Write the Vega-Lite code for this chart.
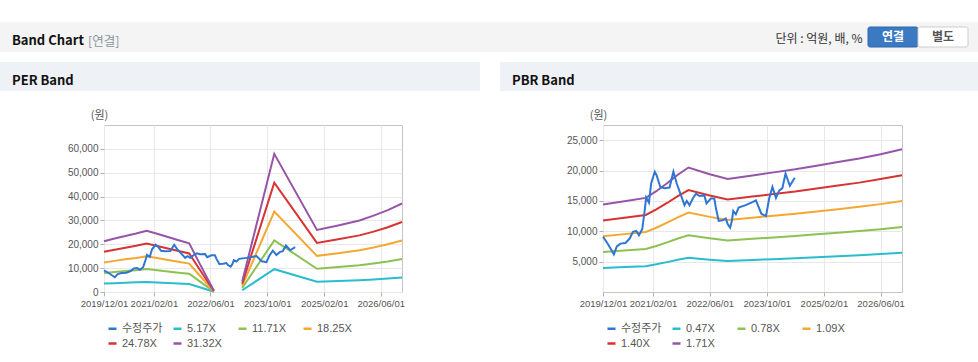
{
 "$schema": "https://vega.github.io/schema/vega-lite/v6.json",
 "padding": {"top": 22, "left": 0, "right": 0, "bottom": 0},
 "background": "white",
 "config": {
  "font": "Noto Sans CJK KR",
  "view": {"stroke": "#c4c4c4"},
  "axis": {"labelFont": "Liberation Sans", "labelFontSize": 10, "labelColor": "#555555", "tickColor": "#b0b0b0", "tickSize": 4, "domain": false, "gridColor": "#e8e8e8", "labelPadding": 2, "titleFont": "Noto Sans CJK KR"},
  "legend": {"labelFont": "Liberation Sans, Noto Sans CJK KR", "labelFontSize": 11, "labelColor": "#555555", "padding": 0},
  "title": {"font": "Noto Sans CJK KR"}
 },
 "datasets": {
  "btn": [{"b": "연결", "on": 1}, {"b": "별도", "on": 0}],
  "price": [
   {"d": "2019-12-01", "s": "수정주가", "v": 9100},
   {"d": "2020-01-13", "s": "수정주가", "v": 7860},
   {"d": "2020-03-03", "s": "수정주가", "v": 6200},
   {"d": "2020-03-28", "s": "수정주가", "v": 7500},
   {"d": "2020-04-28", "s": "수정주가", "v": 7970},
   {"d": "2020-06-10", "s": "수정주가", "v": 8080},
   {"d": "2020-07-16", "s": "수정주가", "v": 8800},
   {"d": "2020-08-13", "s": "수정주가", "v": 9900},
   {"d": "2020-09-10", "s": "수정주가", "v": 10060},
   {"d": "2020-10-04", "s": "수정주가", "v": 9340},
   {"d": "2020-11-01", "s": "수정주가", "v": 10400},
   {"d": "2020-11-22", "s": "수정주가", "v": 13500},
   {"d": "2020-12-04", "s": "수정주가", "v": 15550},
   {"d": "2020-12-28", "s": "수정주가", "v": 14700},
   {"d": "2021-01-16", "s": "수정주가", "v": 17900},
   {"d": "2021-02-16", "s": "수정주가", "v": 19800},
   {"d": "2021-03-04", "s": "수정주가", "v": 19200},
   {"d": "2021-04-04", "s": "수정주가", "v": 17300},
   {"d": "2021-05-10", "s": "수정주가", "v": 17100},
   {"d": "2021-06-22", "s": "수정주가", "v": 17200},
   {"d": "2021-07-25", "s": "수정주가", "v": 19800},
   {"d": "2021-08-22", "s": "수정주가", "v": 17900},
   {"d": "2021-09-28", "s": "수정주가", "v": 15900},
   {"d": "2021-10-28", "s": "수정주가", "v": 14300},
   {"d": "2021-11-16", "s": "수정주가", "v": 15000},
   {"d": "2021-12-10", "s": "수정주가", "v": 14300},
   {"d": "2022-01-07", "s": "수정주가", "v": 15400},
   {"d": "2022-02-04", "s": "수정주가", "v": 16200},
   {"d": "2022-03-04", "s": "수정주가", "v": 15800},
   {"d": "2022-04-16", "s": "수정주가", "v": 15900},
   {"d": "2022-05-04", "s": "수정주가", "v": 14600},
   {"d": "2022-06-10", "s": "수정주가", "v": 15400},
   {"d": "2022-07-10", "s": "수정주가", "v": 15400},
   {"d": "2022-07-22", "s": "수정주가", "v": 14000},
   {"d": "2022-08-16", "s": "수정주가", "v": 11700},
   {"d": "2022-09-19", "s": "수정주가", "v": 11800},
   {"d": "2022-10-16", "s": "수정주가", "v": 12100},
   {"d": "2022-11-01", "s": "수정주가", "v": 11200},
   {"d": "2022-11-22", "s": "수정주가", "v": 10600},
   {"d": "2022-12-07", "s": "수정주가", "v": 11700},
   {"d": "2022-12-19", "s": "수정주가", "v": 13350},
   {"d": "2023-01-10", "s": "수정주가", "v": 12800},
   {"d": "2023-02-03", "s": "수정주가", "v": 13900},
   {"d": "2023-04-04", "s": "수정주가", "v": 14300},
   {"d": "2023-06-01", "s": "수정주가", "v": 14800},
   {"d": "2023-07-01", "s": "수정주가", "v": 15100},
   {"d": "2023-08-16", "s": "수정주가", "v": 12900},
   {"d": "2023-09-25", "s": "수정주가", "v": 12500},
   {"d": "2023-10-22", "s": "수정주가", "v": 15400},
   {"d": "2023-11-19", "s": "수정주가", "v": 17300},
   {"d": "2023-12-19", "s": "수정주가", "v": 15500},
   {"d": "2024-01-16", "s": "수정주가", "v": 16700},
   {"d": "2024-02-12", "s": "수정주가", "v": 17100},
   {"d": "2024-03-10", "s": "수정주가", "v": 19500},
   {"d": "2024-04-16", "s": "수정주가", "v": 17500},
   {"d": "2024-05-28", "s": "수정주가", "v": 18800}
  ],
  "per": [
   {"d": "2019-12-01", "s": "5.17X", "g": 1, "v": 3520},
   {"d": "2020-03-01", "s": "5.17X", "g": 1, "v": 3700},
   {"d": "2020-06-01", "s": "5.17X", "g": 1, "v": 3880},
   {"d": "2020-09-01", "s": "5.17X", "g": 1, "v": 4040},
   {"d": "2020-12-01", "s": "5.17X", "g": 1, "v": 4240},
   {"d": "2021-03-01", "s": "5.17X", "g": 1, "v": 4030},
   {"d": "2021-06-01", "s": "5.17X", "g": 1, "v": 3800},
   {"d": "2021-09-01", "s": "5.17X", "g": 1, "v": 3580},
   {"d": "2021-12-01", "s": "5.17X", "g": 1, "v": 3370},
   {"d": "2022-03-01", "s": "5.17X", "g": 1, "v": 1960},
   {"d": "2022-07-01", "s": "5.17X", "g": 1, "v": 80},
   {"d": "2023-03-01", "s": "5.17X", "g": 2, "v": 730},
   {"d": "2023-12-01", "s": "5.17X", "g": 2, "v": 9560},
   {"d": "2024-12-01", "s": "5.17X", "g": 2, "v": 4290},
   {"d": "2025-06-01", "s": "5.17X", "g": 2, "v": 4610},
   {"d": "2025-12-01", "s": "5.17X", "g": 2, "v": 4950},
   {"d": "2026-04-01", "s": "5.17X", "g": 2, "v": 5280},
   {"d": "2026-08-01", "s": "5.17X", "g": 2, "v": 5660},
   {"d": "2026-12-01", "s": "5.17X", "g": 2, "v": 6120},
   {"d": "2019-12-01", "s": "11.71X", "g": 1, "v": 7960},
   {"d": "2020-03-01", "s": "11.71X", "g": 1, "v": 8380},
   {"d": "2020-06-01", "s": "11.71X", "g": 1, "v": 8790},
   {"d": "2020-09-01", "s": "11.71X", "g": 1, "v": 9160},
   {"d": "2020-12-01", "s": "11.71X", "g": 1, "v": 9610},
   {"d": "2021-03-01", "s": "11.71X", "g": 1, "v": 9120},
   {"d": "2021-06-01", "s": "11.71X", "g": 1, "v": 8620},
   {"d": "2021-09-01", "s": "11.71X", "g": 1, "v": 8110},
   {"d": "2021-12-01", "s": "11.71X", "g": 1, "v": 7630},
   {"d": "2022-03-01", "s": "11.71X", "g": 1, "v": 4450},
   {"d": "2022-07-01", "s": "11.71X", "g": 1, "v": 190},
   {"d": "2023-03-01", "s": "11.71X", "g": 2, "v": 1650},
   {"d": "2023-12-01", "s": "11.71X", "g": 2, "v": 21650},
   {"d": "2024-12-01", "s": "11.71X", "g": 2, "v": 9720},
   {"d": "2025-06-01", "s": "11.71X", "g": 2, "v": 10430},
   {"d": "2025-12-01", "s": "11.71X", "g": 2, "v": 11220},
   {"d": "2026-04-01", "s": "11.71X", "g": 2, "v": 11960},
   {"d": "2026-08-01", "s": "11.71X", "g": 2, "v": 12820},
   {"d": "2026-12-01", "s": "11.71X", "g": 2, "v": 13870},
   {"d": "2019-12-01", "s": "18.25X", "g": 1, "v": 12410},
   {"d": "2020-03-01", "s": "18.25X", "g": 1, "v": 13050},
   {"d": "2020-06-01", "s": "18.25X", "g": 1, "v": 13690},
   {"d": "2020-09-01", "s": "18.25X", "g": 1, "v": 14280},
   {"d": "2020-12-01", "s": "18.25X", "g": 1, "v": 14980},
   {"d": "2021-03-01", "s": "18.25X", "g": 1, "v": 14220},
   {"d": "2021-06-01", "s": "18.25X", "g": 1, "v": 13430},
   {"d": "2021-09-01", "s": "18.25X", "g": 1, "v": 12640},
   {"d": "2021-12-01", "s": "18.25X", "g": 1, "v": 11890},
   {"d": "2022-03-01", "s": "18.25X", "g": 1, "v": 6930},
   {"d": "2022-07-01", "s": "18.25X", "g": 1, "v": 290},
   {"d": "2023-03-01", "s": "18.25X", "g": 2, "v": 2560},
   {"d": "2023-12-01", "s": "18.25X", "g": 2, "v": 33740},
   {"d": "2024-12-01", "s": "18.25X", "g": 2, "v": 15150},
   {"d": "2025-06-01", "s": "18.25X", "g": 2, "v": 16260},
   {"d": "2025-12-01", "s": "18.25X", "g": 2, "v": 17480},
   {"d": "2026-04-01", "s": "18.25X", "g": 2, "v": 18650},
   {"d": "2026-08-01", "s": "18.25X", "g": 2, "v": 19990},
   {"d": "2026-12-01", "s": "18.25X", "g": 2, "v": 21620},
   {"d": "2019-12-01", "s": "24.78X", "g": 1, "v": 16850},
   {"d": "2020-03-01", "s": "24.78X", "g": 1, "v": 17720},
   {"d": "2020-06-01", "s": "24.78X", "g": 1, "v": 18590},
   {"d": "2020-09-01", "s": "24.78X", "g": 1, "v": 19380},
   {"d": "2020-12-01", "s": "24.78X", "g": 1, "v": 20330},
   {"d": "2021-03-01", "s": "24.78X", "g": 1, "v": 19310},
   {"d": "2021-06-01", "s": "24.78X", "g": 1, "v": 18240},
   {"d": "2021-09-01", "s": "24.78X", "g": 1, "v": 17170},
   {"d": "2021-12-01", "s": "24.78X", "g": 1, "v": 16140},
   {"d": "2022-03-01", "s": "24.78X", "g": 1, "v": 9420},
   {"d": "2022-07-01", "s": "24.78X", "g": 1, "v": 400},
   {"d": "2023-03-01", "s": "24.78X", "g": 2, "v": 3480},
   {"d": "2023-12-01", "s": "24.78X", "g": 2, "v": 45810},
   {"d": "2024-12-01", "s": "24.78X", "g": 2, "v": 20570},
   {"d": "2025-06-01", "s": "24.78X", "g": 2, "v": 22070},
   {"d": "2025-12-01", "s": "24.78X", "g": 2, "v": 23740},
   {"d": "2026-04-01", "s": "24.78X", "g": 2, "v": 25320},
   {"d": "2026-08-01", "s": "24.78X", "g": 2, "v": 27140},
   {"d": "2026-12-01", "s": "24.78X", "g": 2, "v": 29350},
   {"d": "2019-12-01", "s": "31.32X", "g": 1, "v": 21300},
   {"d": "2020-03-01", "s": "31.32X", "g": 1, "v": 22400},
   {"d": "2020-06-01", "s": "31.32X", "g": 1, "v": 23500},
   {"d": "2020-09-01", "s": "31.32X", "g": 1, "v": 24500},
   {"d": "2020-12-01", "s": "31.32X", "g": 1, "v": 25700},
   {"d": "2021-03-01", "s": "31.32X", "g": 1, "v": 24400},
   {"d": "2021-06-01", "s": "31.32X", "g": 1, "v": 23050},
   {"d": "2021-09-01", "s": "31.32X", "g": 1, "v": 21700},
   {"d": "2021-12-01", "s": "31.32X", "g": 1, "v": 20400},
   {"d": "2022-03-01", "s": "31.32X", "g": 1, "v": 11900},
   {"d": "2022-07-01", "s": "31.32X", "g": 1, "v": 500},
   {"d": "2023-03-01", "s": "31.32X", "g": 2, "v": 4400},
   {"d": "2023-12-01", "s": "31.32X", "g": 2, "v": 57900},
   {"d": "2024-12-01", "s": "31.32X", "g": 2, "v": 26000},
   {"d": "2025-06-01", "s": "31.32X", "g": 2, "v": 27900},
   {"d": "2025-12-01", "s": "31.32X", "g": 2, "v": 30000},
   {"d": "2026-04-01", "s": "31.32X", "g": 2, "v": 32000},
   {"d": "2026-08-01", "s": "31.32X", "g": 2, "v": 34300},
   {"d": "2026-12-01", "s": "31.32X", "g": 2, "v": 37100}
  ],
  "pbr": [
   {"d": "2019-12-01", "s": "0.47X", "v": 3960},
   {"d": "2020-06-01", "s": "0.47X", "v": 4110},
   {"d": "2020-12-01", "s": "0.47X", "v": 4260},
   {"d": "2021-03-01", "s": "0.47X", "v": 4560},
   {"d": "2021-06-01", "s": "0.47X", "v": 4920},
   {"d": "2021-09-01", "s": "0.47X", "v": 5300},
   {"d": "2021-12-01", "s": "0.47X", "v": 5630},
   {"d": "2022-06-01", "s": "0.47X", "v": 5330},
   {"d": "2022-11-01", "s": "0.47X", "v": 5110},
   {"d": "2023-06-01", "s": "0.47X", "v": 5280},
   {"d": "2023-12-01", "s": "0.47X", "v": 5410},
   {"d": "2024-06-01", "s": "0.47X", "v": 5550},
   {"d": "2024-12-01", "s": "0.47X", "v": 5720},
   {"d": "2025-06-01", "s": "0.47X", "v": 5880},
   {"d": "2025-12-01", "s": "0.47X", "v": 6050},
   {"d": "2026-06-01", "s": "0.47X", "v": 6240},
   {"d": "2026-12-01", "s": "0.47X", "v": 6460},
   {"d": "2019-12-01", "s": "0.78X", "v": 6570},
   {"d": "2020-06-01", "s": "0.78X", "v": 6820},
   {"d": "2020-12-01", "s": "0.78X", "v": 7070},
   {"d": "2021-03-01", "s": "0.78X", "v": 7570},
   {"d": "2021-06-01", "s": "0.78X", "v": 8170},
   {"d": "2021-09-01", "s": "0.78X", "v": 8800},
   {"d": "2021-12-01", "s": "0.78X", "v": 9350},
   {"d": "2022-06-01", "s": "0.78X", "v": 8850},
   {"d": "2022-11-01", "s": "0.78X", "v": 8480},
   {"d": "2023-06-01", "s": "0.78X", "v": 8760},
   {"d": "2023-12-01", "s": "0.78X", "v": 8990},
   {"d": "2024-06-01", "s": "0.78X", "v": 9210},
   {"d": "2024-12-01", "s": "0.78X", "v": 9490},
   {"d": "2025-06-01", "s": "0.78X", "v": 9760},
   {"d": "2025-12-01", "s": "0.78X", "v": 10040},
   {"d": "2026-06-01", "s": "0.78X", "v": 10350},
   {"d": "2026-12-01", "s": "0.78X", "v": 10720},
   {"d": "2019-12-01", "s": "1.09X", "v": 9180},
   {"d": "2020-06-01", "s": "1.09X", "v": 9530},
   {"d": "2020-12-01", "s": "1.09X", "v": 9880},
   {"d": "2021-03-01", "s": "1.09X", "v": 10580},
   {"d": "2021-06-01", "s": "1.09X", "v": 11410},
   {"d": "2021-09-01", "s": "1.09X", "v": 12300},
   {"d": "2021-12-01", "s": "1.09X", "v": 13070},
   {"d": "2022-06-01", "s": "1.09X", "v": 12370},
   {"d": "2022-11-01", "s": "1.09X", "v": 11860},
   {"d": "2023-06-01", "s": "1.09X", "v": 12240},
   {"d": "2023-12-01", "s": "1.09X", "v": 12560},
   {"d": "2024-06-01", "s": "1.09X", "v": 12880},
   {"d": "2024-12-01", "s": "1.09X", "v": 13260},
   {"d": "2025-06-01", "s": "1.09X", "v": 13640},
   {"d": "2025-12-01", "s": "1.09X", "v": 14020},
   {"d": "2026-06-01", "s": "1.09X", "v": 14470},
   {"d": "2026-12-01", "s": "1.09X", "v": 14980},
   {"d": "2019-12-01", "s": "1.40X", "v": 11790},
   {"d": "2020-06-01", "s": "1.40X", "v": 12240},
   {"d": "2020-12-01", "s": "1.40X", "v": 12690},
   {"d": "2021-03-01", "s": "1.40X", "v": 13590},
   {"d": "2021-06-01", "s": "1.40X", "v": 14660},
   {"d": "2021-09-01", "s": "1.40X", "v": 15800},
   {"d": "2021-12-01", "s": "1.40X", "v": 16780},
   {"d": "2022-06-01", "s": "1.40X", "v": 15880},
   {"d": "2022-11-01", "s": "1.40X", "v": 15230},
   {"d": "2023-06-01", "s": "1.40X", "v": 15720},
   {"d": "2023-12-01", "s": "1.40X", "v": 16130},
   {"d": "2024-06-01", "s": "1.40X", "v": 16540},
   {"d": "2024-12-01", "s": "1.40X", "v": 17030},
   {"d": "2025-06-01", "s": "1.40X", "v": 17520},
   {"d": "2025-12-01", "s": "1.40X", "v": 18010},
   {"d": "2026-06-01", "s": "1.40X", "v": 18590},
   {"d": "2026-12-01", "s": "1.40X", "v": 19240},
   {"d": "2019-12-01", "s": "1.71X", "v": 14400},
   {"d": "2020-06-01", "s": "1.71X", "v": 14950},
   {"d": "2020-12-01", "s": "1.71X", "v": 15500},
   {"d": "2021-03-01", "s": "1.71X", "v": 16600},
   {"d": "2021-06-01", "s": "1.71X", "v": 17900},
   {"d": "2021-09-01", "s": "1.71X", "v": 19300},
   {"d": "2021-12-01", "s": "1.71X", "v": 20500},
   {"d": "2022-06-01", "s": "1.71X", "v": 19400},
   {"d": "2022-11-01", "s": "1.71X", "v": 18600},
   {"d": "2023-06-01", "s": "1.71X", "v": 19200},
   {"d": "2023-12-01", "s": "1.71X", "v": 19700},
   {"d": "2024-06-01", "s": "1.71X", "v": 20200},
   {"d": "2024-12-01", "s": "1.71X", "v": 20800},
   {"d": "2025-06-01", "s": "1.71X", "v": 21400},
   {"d": "2025-12-01", "s": "1.71X", "v": 22000},
   {"d": "2026-06-01", "s": "1.71X", "v": 22700},
   {"d": "2026-12-01", "s": "1.71X", "v": 23500}
  ]
 },
 "resolve": {"scale": {"x": "independent", "y": "independent", "color": "independent"}, "legend": {"color": "independent"}},
 "spacing": 10,
 "vconcat": [
  {
   "hconcat": [
    {"width": 88, "height": 30, "data": {"values": []}, "mark": "text", "view": {"fill": "#f4f4f4", "stroke": null},
     "title": {"text": "Band Chart", "anchor": "start", "dx": 12, "offset": -36, "baseline": "alphabetic", "fontSize": 13, "fontWeight": "bold", "color": "#111111"}},
    {"width": 780, "height": 30, "data": {"values": []}, "mark": "text", "view": {"fill": "#f4f4f4", "stroke": null},
     "title": {"text": "[연결]", "anchor": "start", "dx": 0, "offset": -36, "baseline": "alphabetic", "fontSize": 12.5, "fontWeight": "normal", "color": "#8d96a0"}},
    {"width": 110, "height": 30, "data": {"name": "btn"}, "view": {"fill": "#f4f4f4", "stroke": null},
     "layer": [
      {"mark": {"type": "rect", "cornerRadius": 2, "strokeWidth": 1},
       "encoding": {
        "x": {"field": "b", "type": "nominal", "sort": null, "scale": {"domain": ["연결", "별도"], "paddingInner": 0, "paddingOuter": 0.1, "align": 0}, "axis": null},
        "y": {"datum": "btn", "type": "nominal", "scale": {"domain": ["btn"], "paddingInner": 0, "paddingOuter": 0.25},
              "axis": {"title": "단위 : 억원, 배, %", "labels": false, "ticks": false, "domain": false, "grid": false, "titleAngle": 0, "titleAlign": "right", "titleBaseline": "alphabetic", "titleX": -6, "titleY": 20, "titleFontSize": 12, "titleFontWeight": "normal", "titleColor": "#333333"}},
        "fill": {"condition": {"test": "datum.on === 1", "value": "#3b79c3"}, "value": "#ffffff"},
        "stroke": {"condition": {"test": "datum.on === 1", "value": "#2e68ad"}, "value": "#cdcdcd"}
       }},
      {"mark": {"type": "text", "fontSize": 12, "fontWeight": "bold"},
       "encoding": {
        "x": {"field": "b", "type": "nominal", "sort": null, "scale": {"domain": ["연결", "별도"], "paddingInner": 0, "paddingOuter": 0.1, "align": 0}, "axis": null},
        "y": {"datum": "btn", "type": "nominal", "scale": {"domain": ["btn"], "paddingInner": 0, "paddingOuter": 0.25},
              "axis": {"title": "단위 : 억원, 배, %", "labels": false, "ticks": false, "domain": false, "grid": false, "titleAngle": 0, "titleAlign": "right", "titleBaseline": "alphabetic", "titleX": -6, "titleY": 20, "titleFontSize": 12, "titleFontWeight": "normal", "titleColor": "#333333"}},
        "text": {"field": "b"},
        "color": {"condition": {"test": "datum.on === 1", "value": "#ffffff"}, "value": "#555555"}
       }}
     ]}
   ],
   "spacing": 0,
   "bounds": "flush"
  },
  {
   "resolve": {"scale": {"x": "independent", "y": "independent", "color": "independent"}, "legend": {"color": "independent"}},
   "vconcat": [
    {
     "hconcat": [
      {"width": 480, "height": 29, "data": {"values": []}, "mark": "text", "view": {"fill": "#eef1f6", "stroke": null},
       "title": {"text": "PER Band", "anchor": "start", "dx": 12, "offset": -36, "baseline": "alphabetic", "fontSize": 13, "fontWeight": "bold", "color": "#111111"}},
      {"width": 478, "height": 29, "data": {"values": []}, "mark": "text", "view": {"fill": "#eef1f6", "stroke": null},
       "title": {"text": "PBR Band", "anchor": "start", "dx": 12, "offset": -36, "baseline": "alphabetic", "fontSize": 13, "fontWeight": "bold", "color": "#111111"}}
     ],
     "spacing": 20
    },
    {
     "resolve": {"scale": {"x": "independent", "y": "independent", "color": "independent"}, "legend": {"color": "independent"}},
     "hconcat": [
      {"width": 104, "height": 167, "data": {"values": []}, "mark": "point", "view": {"stroke": null}},
      {
       "width": 298, "height": 167,
       "encoding": {
        "x": {"field": "d", "type": "temporal",
              "scale": {"type": "utc", "domain": [{"year": 2019, "month": 12, "date": 1, "utc": true}, {"year": 2026, "month": 12, "date": 1, "utc": true}]},
              "axis": {"title": null, "format": "%Y/%m/%d", "labelFlush": false, "labelOverlap": false, "labelFontSize": 9.5, "grid": true,
                       "values": [{"year": 2019, "month": 12, "date": 1, "utc": true}, {"year": 2021, "month": 2, "date": 1, "utc": true}, {"year": 2022, "month": 6, "date": 1, "utc": true}, {"year": 2023, "month": 10, "date": 1, "utc": true}, {"year": 2025, "month": 2, "date": 1, "utc": true}, {"year": 2026, "month": 6, "date": 1, "utc": true}]}},
        "y": {"field": "v", "type": "quantitative",
              "scale": {"domain": [0, 70000], "nice": false},
              "axis": {"values": [0, 10000, 20000, 30000, 40000, 50000, 60000], "format": ",d", "title": "(원)", "titleAngle": 0, "titleAlign": "center", "titleBaseline": "middle", "titleX": -5, "titleY": -10, "titleFontSize": 11, "titleFontWeight": "normal", "titleColor": "#555555"}},
        "color": {"field": "s", "type": "nominal",
                  "scale": {"domain": ["수정주가", "5.17X", "11.71X", "18.25X", "24.78X", "31.32X"], "range": ["#2f76d2", "#2bbccd", "#8dc152", "#f5a733", "#d83232", "#9655a8"]},
                  "legend": {"title": null, "orient": "none", "legendX": 3, "legendY": 198, "direction": "horizontal", "columns": 4, "gridAlign": "all", "symbolType": "stroke", "symbolSize": 64, "symbolStrokeWidth": 2.5, "labelOffset": 4, "columnPadding": 5, "rowPadding": 3}}
       },
       "layer": [
        {"data": {"name": "per"}, "mark": {"type": "line", "strokeWidth": 2}, "encoding": {"detail": {"field": "g"}}},
        {"data": {"name": "price"}, "mark": {"type": "line", "strokeWidth": 2}}
       ]
      },
      {"width": 201, "height": 167, "data": {"values": []}, "mark": "point", "view": {"stroke": null}},
      {
       "width": 299, "height": 167,
       "encoding": {
        "x": {"field": "d", "type": "temporal",
              "scale": {"type": "utc", "domain": [{"year": 2019, "month": 12, "date": 1, "utc": true}, {"year": 2026, "month": 12, "date": 1, "utc": true}]},
              "axis": {"title": null, "format": "%Y/%m/%d", "labelFlush": false, "labelOverlap": false, "labelFontSize": 9.5, "grid": true,
                       "values": [{"year": 2019, "month": 12, "date": 1, "utc": true}, {"year": 2021, "month": 2, "date": 1, "utc": true}, {"year": 2022, "month": 6, "date": 1, "utc": true}, {"year": 2023, "month": 10, "date": 1, "utc": true}, {"year": 2025, "month": 2, "date": 1, "utc": true}, {"year": 2026, "month": 6, "date": 1, "utc": true}]}},
        "y": {"field": "v", "type": "quantitative",
              "scale": {"domain": [0, 27500], "nice": false},
              "axis": {"values": [5000, 10000, 15000, 20000, 25000], "format": ",d", "title": "(원)", "titleAngle": 0, "titleAlign": "center", "titleBaseline": "middle", "titleX": -5, "titleY": -10, "titleFontSize": 11, "titleFontWeight": "normal", "titleColor": "#555555"}},
        "color": {"field": "s", "type": "nominal",
                  "scale": {"domain": ["수정주가", "0.47X", "0.78X", "1.09X", "1.40X", "1.71X"], "range": ["#2f76d2", "#2bbccd", "#8dc152", "#f5a733", "#d83232", "#9655a8"]},
                  "legend": {"title": null, "orient": "none", "legendX": 3, "legendY": 198, "direction": "horizontal", "columns": 4, "gridAlign": "all", "symbolType": "stroke", "symbolSize": 64, "symbolStrokeWidth": 2.5, "labelOffset": 4, "columnPadding": 5, "rowPadding": 3}}
       },
       "layer": [
        {"data": {"name": "pbr"}, "mark": {"type": "line", "strokeWidth": 2}},
        {"data": {"name": "price"}, "mark": {"type": "line", "strokeWidth": 2}}
       ]
      }
     ],
     "spacing": 0,
     "bounds": "flush"
    }
   ],
   "spacing": 17
  }
 ]
}
